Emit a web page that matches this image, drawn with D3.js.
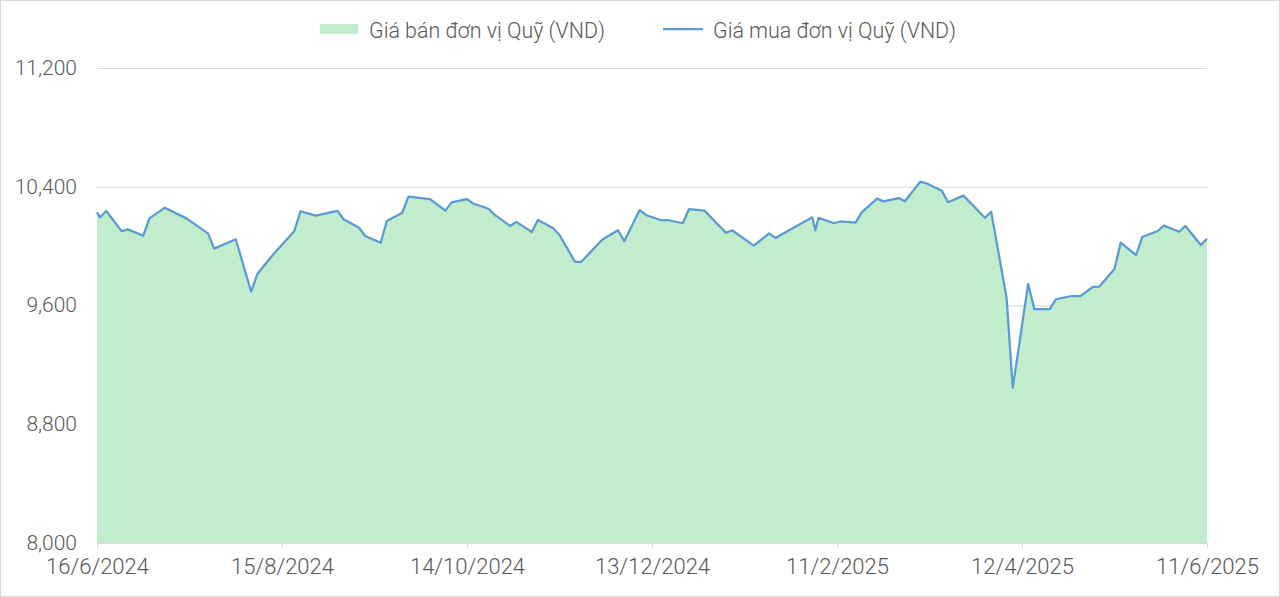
<!DOCTYPE html>
<html>
<head>
<meta charset="utf-8">
<script src="https://cdn.jsdelivr.net/npm/d3@7"></script>
<style>
  html, body { margin: 0; padding: 0; background: #fff; }
  #chart { width: 1280px; height: 597px; }
  text { font-family: Roboto, "Liberation Sans", sans-serif; font-weight: 300; fill: #595959; }
</style>
</head>
<body>
<div id="chart"></div>
<script>
// ngày có giá (NAV)
const dates = [
  "2024-06-16", "2024-06-17", "2024-06-19", "2024-06-24", "2024-06-26", "2024-07-01", "2024-07-03", "2024-07-08",
  "2024-07-15", "2024-07-22", "2024-07-24", "2024-07-31", "2024-08-05", "2024-08-07", "2024-08-12", "2024-08-19",
  "2024-08-21", "2024-08-26", "2024-09-02", "2024-09-04", "2024-09-09", "2024-09-11", "2024-09-16", "2024-09-18",
  "2024-09-23", "2024-09-25", "2024-10-02", "2024-10-07", "2024-10-09", "2024-10-14", "2024-10-16", "2024-10-21",
  "2024-10-23", "2024-10-28", "2024-10-30", "2024-11-04", "2024-11-06", "2024-11-11", "2024-11-13", "2024-11-18",
  "2024-11-20", "2024-11-27", "2024-12-02", "2024-12-04", "2024-12-09", "2024-12-11", "2024-12-16", "2024-12-18",
  "2024-12-23", "2024-12-25", "2024-12-30", "2025-01-06", "2025-01-08", "2025-01-15", "2025-01-20", "2025-01-22",
  "2025-02-03", "2025-02-04", "2025-02-05", "2025-02-10", "2025-02-12", "2025-02-17", "2025-02-19", "2025-02-24",
  "2025-02-26", "2025-03-03", "2025-03-05", "2025-03-10", "2025-03-12", "2025-03-17", "2025-03-19", "2025-03-24",
  "2025-03-31", "2025-04-02", "2025-04-07", "2025-04-09", "2025-04-14", "2025-04-16", "2025-04-21", "2025-04-23",
  "2025-04-28", "2025-05-01", "2025-05-05", "2025-05-07", "2025-05-12", "2025-05-14", "2025-05-19", "2025-05-21",
  "2025-05-26", "2025-05-28", "2025-06-02", "2025-06-04", "2025-06-09", "2025-06-11",
];
const sellPrice = [
  10228, 10194, 10237, 10100, 10113, 10070, 10187, 10259,
  10187, 10086, 9983, 10046, 9693, 9812, 9940, 10102,
  10235, 10205, 10237, 10181, 10124, 10068, 10023, 10169,
  10225, 10333, 10317, 10239, 10295, 10317, 10287, 10252,
  10210, 10136, 10163, 10095, 10176, 10120, 10075, 9895,
  9893, 10046, 10107, 10033, 10243, 10210, 10174, 10176,
  10154, 10250, 10239, 10090, 10107, 10003, 10086, 10055,
  10194, 10107, 10191, 10154, 10166, 10158, 10227, 10320,
  10302, 10324, 10302, 10434, 10423, 10373, 10295, 10340,
  10191, 10232, 9655, 9046, 9745, 9576, 9576, 9642,
  9664, 9664, 9725, 9727, 9846, 10023, 9940, 10061,
  10102, 10138, 10097, 10136, 10008, 10050,
];
// giá mua trùng với giá bán
const buyPrice = sellPrice.slice();
const yTicks = [8000, 8800, 9600, 10400, 11200];
const xTicks = ["2024-06-16", "2024-08-15", "2024-10-14", "2024-12-13", "2025-02-11", "2025-04-12", "2025-06-11"];
const seriesNames = ["Giá bán đơn vị Quỹ (VND)", "Giá mua đơn vị Quỹ (VND)"];

const W = 1280, H = 597;
const pad = { t: 68, b: 54, s: 97, e: 73 };
const parse = d3.timeParse("%Y-%m-%d");
const fmtDate = d3.timeFormat("%-d/%-m/%Y");
const fmtNum = d3.format(",");

const data = dates.map((d, i) => ({ date: parse(d), sell: sellPrice[i], buy: buyPrice[i] }));

const svg = d3.select("#chart").append("svg").attr("width", W).attr("height", H);

svg.append("rect")
  .attr("x", 0.5).attr("y", 0.5).attr("width", W - 1).attr("height", H - 1)
  .attr("fill", "#fff").attr("stroke", "#d9d9d9");

const xScale = d3.scaleTime()
  .domain([parse(xTicks[0]), parse(xTicks[xTicks.length - 1])])
  .range([pad.s, W - pad.e]);
const yScale = d3.scaleLinear()
  .domain([8000, 11200])
  .range([H - pad.b, pad.t]);

// lưới ngang
svg.append("g")
  .selectAll("line")
  .data(yTicks)
  .enter()
  .append("line")
  .attr("x1", pad.s)
  .attr("x2", W - pad.e)
  .attr("y1", (d) => yScale(d) + 0.5)
  .attr("y2", (d) => yScale(d) + 0.5)
  .attr("stroke", "#d9d9d9")
  .attr("stroke-width", 1);

const area = d3.area()
  .x((d) => xScale(d.date))
  .y0(yScale(8000))
  .y1((d) => yScale(d.sell));
svg.append("path").datum(data).attr("d", area).attr("fill", "#c1edcc");

const line = d3.line()
  .x((d) => xScale(d.date))
  .y((d) => yScale(d.buy));
svg.append("path").datum(data).attr("d", line)
  .attr("fill", "none").attr("stroke", "#5b9bd5").attr("stroke-width", 2.25)
  .attr("stroke-linejoin", "round");

// trục y
const yAxis = svg.append("g")
  .attr("font-family", null)
  .attr("transform", `translate(${pad.s - 17}, 0)`)
  .call(d3.axisLeft(yScale).tickValues(yTicks).tickFormat(fmtNum).tickSize(0));
yAxis.attr("font-family", null);
yAxis.select(".domain").remove();
yAxis.selectAll("text").attr("font-size", 21).attr("dy", "0.3em").attr("fill", "#595959");

// trục x
const xAxis = svg.append("g")
  .attr("transform", `translate(0, ${H - pad.b})`)
  .call(d3.axisBottom(xScale).tickValues(xTicks.map(parse)).tickFormat(fmtDate).tickSize(5).tickPadding(10));
xAxis.attr("font-family", null);
xAxis.select(".domain").attr("stroke", "#d9d9d9").attr("d", `M${pad.s},0.5H${W - pad.e}`);
xAxis.selectAll(".tick line").attr("stroke", "#d9d9d9");
xAxis.selectAll("text").attr("font-size", 22).attr("fill", "#595959");

// chú thích
const legend = svg.append("g").attr("transform", "translate(320, 29)");
legend.append("rect").attr("x", 0).attr("y", -5).attr("width", 38).attr("height", 10).attr("fill", "#c1edcc");
legend.append("text").attr("x", 49).attr("y", 1).attr("dy", "0.35em").attr("font-size", 21.4).text(seriesNames[0]);
legend.append("line").attr("x1", 343).attr("x2", 383).attr("y1", 0).attr("y2", 0)
  .attr("stroke", "#5b9bd5").attr("stroke-width", 2.25);
legend.append("text").attr("x", 393).attr("y", 1).attr("dy", "0.35em").attr("font-size", 21.4).text(seriesNames[1]);
</script>
</body>
</html>
